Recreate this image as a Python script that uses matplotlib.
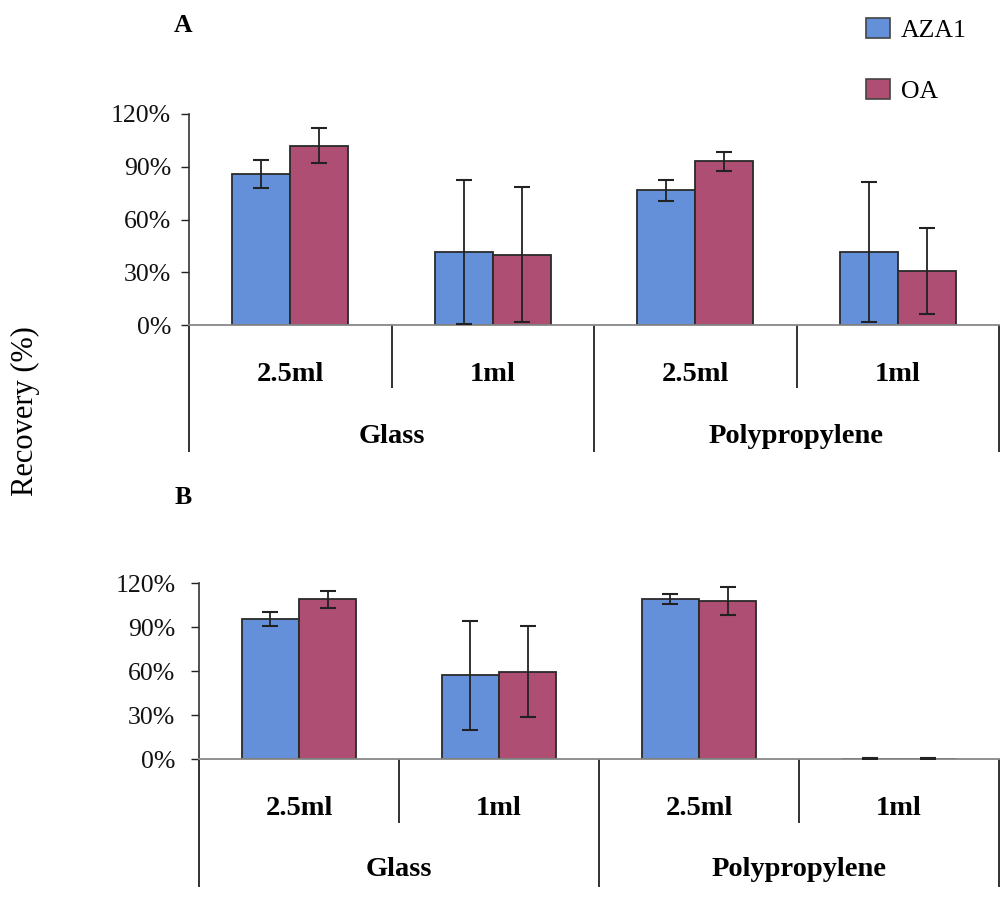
import matplotlib
matplotlib.use("Agg")
import matplotlib.pyplot as plt
from matplotlib.patches import Patch

plt.rcParams['font.family'] = ['Liberation Serif', 'DejaVu Serif']

# ---- data ----
subcats = ["2.5ml", "1ml", "2.5ml", "1ml"]
groups = ["Glass", "Polypropylene"]
series = ["AZA1", "OA"]

a_aza1 = [86, 41.5, 76.5, 41.5]
a_aza1_err = [8, 41, 6, 40]
a_oa = [102, 40, 93, 30.5]
a_oa_err = [10, 38.5, 5.5, 24.5]

b_aza1 = [95.5, 57, 109, 0]
b_aza1_err = [5, 37, 3.2, 0.8]
b_oa = [109, 59.5, 108, 0]
b_oa_err = [5.8, 31, 9.5, 0.8]

yticks = [0, 30, 60, 90, 120]
ytick_labels = ["0%", "30%", "60%", "90%", "120%"]

colors = ["#6490DA", "#AD4E72"]

W, H = 1001, 898
fig = plt.figure(figsize=(W / 100, H / 100), dpi=100)


def px_axes(x0, x1, ytop, ybot):
    return fig.add_axes([x0 / W, 1 - ybot / H, (x1 - x0) / W, (ybot - ytop) / H])


def draw_panel(ax, v1, e1, v2, e2, sub_div, full_bot, sub_y, grp_y, tickpad):
    n = len(subcats)
    bw = 0.287
    xs = [i + 0.5 for i in range(n)]
    for vals, errs, off, col in [(v1, e1, -bw / 2, colors[0]), (v2, e2, bw / 2, colors[1])]:
        pos = [x + off for x in xs]
        ax.bar(pos, vals, width=bw, color=col, edgecolor="#2a2a2a", linewidth=1.3, zorder=2)
        ax.errorbar(pos, vals, yerr=errs, fmt="none", ecolor="#222222",
                    elinewidth=1.3, capsize=5.5, capthick=1.5, zorder=3)
    ax.set_xlim(0, n)
    ax.set_ylim(0, 120)
    ax.set_yticks(yticks)
    ax.set_yticklabels(ytick_labels)
    ax.tick_params(axis="y", direction="out", length=6, width=1, labelsize=18.5,
                   pad=tickpad, colors="#222222", labelcolor="#111111")
    ax.tick_params(axis="x", bottom=False, labelbottom=False)
    for s in ["top", "right"]:
        ax.spines[s].set_visible(False)
    ax.spines["left"].set_color("#333333")
    ax.spines["left"].set_linewidth(1.2)
    ax.spines["bottom"].set_color("#888888")
    ax.spines["bottom"].set_linewidth(1.3)
    tr = ax.get_xaxis_transform()
    # category table lines
    for i in range(n + 1):
        bottom = full_bot if i % 2 == 0 else sub_div
        ax.plot([i, i], [0, bottom], transform=tr, color="#222222", lw=1.3,
                clip_on=False, solid_capstyle="butt")
    for i, lab in enumerate(subcats):
        ax.text(i + 0.5, sub_y, lab, transform=tr, ha="center", va="center",
                fontsize=20.5, fontweight="bold")
    for g, lab in enumerate(groups):
        ax.text(2 * g + 1, grp_y, lab, transform=tr, ha="center", va="center",
                fontsize=20.5, fontweight="bold")


axA = px_axes(189, 999, 114, 325)
draw_panel(axA, a_aza1, a_aza1_err, a_oa, a_oa_err,
           sub_div=-0.30, full_bot=-0.60, sub_y=-0.235, grp_y=-0.53, tickpad=7)

axB = px_axes(199, 999, 583, 759)
draw_panel(axB, b_aza1, b_aza1_err, b_oa, b_oa_err,
           sub_div=-0.364, full_bot=-0.727, sub_y=-0.28, grp_y=-0.63, tickpad=11)

fig.text(183 / W, 1 - 26 / H, "A", ha="center", va="center", fontsize=18.5, fontweight="bold")
fig.text(183 / W, 1 - 497 / H, "B", ha="center", va="center", fontsize=18.5, fontweight="bold")
fig.text(25 / W, 1 - 411 / H, "Recovery (%)", rotation=90, ha="center", va="center",
         fontsize=22)

handles = [Patch(facecolor=colors[0], edgecolor="#444444", lw=1.2, label=series[0]),
           Patch(facecolor=colors[1], edgecolor="#444444", lw=1.2, label=series[1])]
fig.legend(handles=handles, loc="upper left", bbox_to_anchor=(866 / W, 1 - 18 / H),
           frameon=False, fontsize=18.5, borderpad=0, borderaxespad=0,
           handlelength=0.95, handleheight=0.8, handletextpad=0.4, labelspacing=1.45)

fig.savefig("out.png", dpi=100)
